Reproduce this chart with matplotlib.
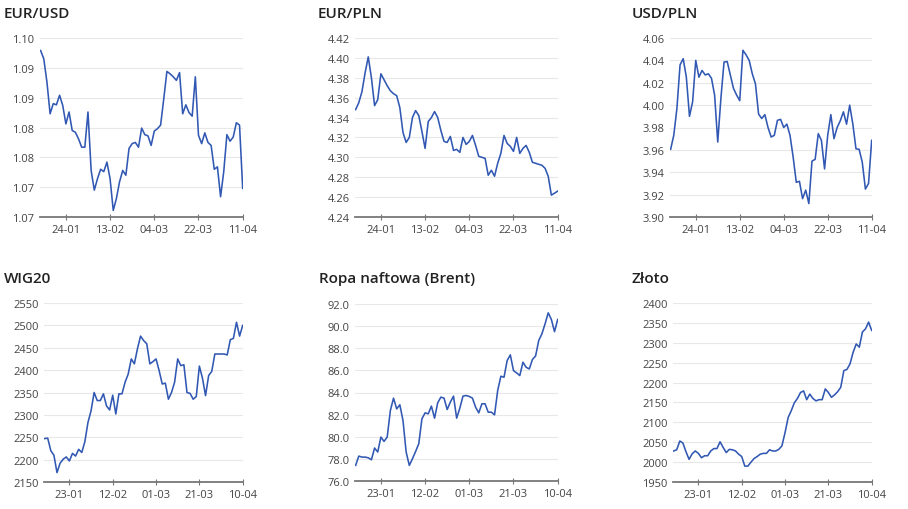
import matplotlib
matplotlib.use("Agg")
import matplotlib.pyplot as plt
import numpy as np

plt.rcParams["font.family"] = ["Open Sans", "DejaVu Sans"]

# x labels: every 14th business day, last point is the last tick
top_dates = ["24-01", "13-02", "04-03", "22-03", "11-04"]
bottom_dates = ["23-01", "12-02", "01-03", "21-03", "10-04"]

eurusd = [1.0979, 1.0965, 1.0926, 1.0873, 1.0890, 1.0888, 1.0904, 1.0887, 1.0856, 1.0876,
          1.0845, 1.0842, 1.0831, 1.0817, 1.0817, 1.0876, 1.0778, 1.0745, 1.0764, 1.0780,
          1.0776, 1.0792, 1.0764, 1.0711, 1.0731, 1.0759, 1.0778, 1.0770, 1.0815, 1.0823,
          1.0825, 1.0817, 1.0849, 1.0838, 1.0836, 1.0820, 1.0844, 1.0848, 1.0854, 1.0898,
          1.0944, 1.0940, 1.0935, 1.0929, 1.0942, 1.0873, 1.0888, 1.0875, 1.0869, 1.0935,
          1.0837, 1.0823, 1.0841, 1.0825, 1.0820, 1.0780, 1.0784, 1.0734, 1.0776, 1.0838,
          1.0827, 1.0834, 1.0858, 1.0854, 1.0748]
eurpln = [4.348, 4.355, 4.366, 4.385, 4.401, 4.380, 4.352, 4.358, 4.384, 4.378,
          4.372, 4.367, 4.364, 4.362, 4.350, 4.325, 4.315, 4.320, 4.340, 4.347,
          4.342, 4.326, 4.309, 4.336, 4.340, 4.346, 4.340, 4.327, 4.316, 4.315,
          4.321, 4.307, 4.308, 4.305, 4.320, 4.313, 4.316, 4.322, 4.312, 4.301,
          4.300, 4.299, 4.282, 4.287, 4.281, 4.294, 4.304, 4.322, 4.314, 4.311,
          4.306, 4.320, 4.304, 4.309, 4.312, 4.305, 4.295, 4.294, 4.293, 4.292,
          4.289, 4.281, 4.262, 4.264, 4.266]
usdpln = [3.9605, 3.973, 3.997, 4.036, 4.0415, 4.025, 3.990, 4.003, 4.040, 4.025,
          4.031, 4.027, 4.028, 4.024, 4.009, 3.967, 4.006, 4.0385, 4.039, 4.027,
          4.015, 4.009, 4.004, 4.049, 4.045, 4.040, 4.028, 4.019, 3.992, 3.988,
          3.9915, 3.980, 3.9715, 3.973, 3.9864, 3.9873, 3.980, 3.983, 3.973, 3.9536,
          3.931, 3.9319, 3.9164, 3.924, 3.912, 3.950, 3.9515, 3.9745, 3.9685, 3.943,
          3.973, 3.9915, 3.970, 3.980, 3.986, 3.994, 3.983, 4.000, 3.983, 3.961,
          3.9605, 3.949, 3.925, 3.930, 3.9685]
wig20 = [2247, 2248, 2220, 2210, 2171, 2192, 2201, 2206, 2197, 2214,
         2208, 2223, 2216, 2240, 2283, 2309, 2350, 2332, 2332, 2347,
         2320, 2311, 2344, 2302, 2347, 2347, 2373, 2391, 2425, 2414,
         2448, 2476, 2466, 2459, 2414, 2419, 2425, 2399, 2369, 2371,
         2335, 2350, 2373, 2425, 2410, 2412, 2350, 2348, 2335, 2341,
         2409, 2382, 2343, 2388, 2397, 2436, 2436, 2436, 2436, 2434,
         2468, 2471, 2507, 2476, 2500]
brent = [77.41, 78.25, 78.16, 78.16, 78.10, 77.92, 78.98, 78.62, 79.97, 79.58,
         79.97, 82.37, 83.49, 82.52, 82.89, 81.47, 78.62, 77.41, 78.01, 78.67,
         79.37, 81.62, 82.16, 82.07, 82.77, 81.68, 83.07, 83.58, 83.49, 82.46,
         83.13, 83.67, 81.68, 82.58, 83.67, 83.73, 83.64, 83.49, 82.67, 82.16,
         82.98, 82.98, 82.22, 82.22, 81.98, 84.18, 85.47, 85.38, 86.89, 87.40,
         85.98, 85.77, 85.53, 86.74, 86.28, 86.13, 86.98, 87.30, 88.70, 89.30,
         90.20, 91.20, 90.60, 89.50, 90.60]
zloto = [2028, 2031, 2053, 2048, 2026, 2007, 2021, 2028, 2022, 2011,
         2016, 2016, 2028, 2034, 2034, 2051, 2037, 2024, 2032, 2031,
         2028, 2020, 2014, 1990, 1990, 2000, 2009, 2014, 2020, 2022,
         2022, 2031, 2028, 2028, 2032, 2041, 2074, 2112, 2129, 2149,
         2160, 2175, 2179, 2157, 2171, 2160, 2154, 2157, 2157, 2184,
         2175, 2163, 2169, 2177, 2188, 2230, 2233, 2247, 2276, 2297,
         2289, 2327, 2335, 2352, 2331]

eurusd_ticks = ["1.07", "1.07", "1.08", "1.08", "1.09", "1.09", "1.10"]

panels = [
    # title, values, date labels, y ticks (lo, hi, step), tick format, axes box in px, title pos
    ("EUR/USD", eurusd, top_dates, (1.07, 1.10, 0.005), None, (40, 39, 243, 218), (4, 14)),
    ("EUR/PLN", eurpln, top_dates, (4.24, 4.42, 0.02), "{:.2f}", (355, 39, 558, 218), (318, 14)),
    ("USD/PLN", usdpln, top_dates, (3.90, 4.06, 0.02), "{:.2f}", (670, 39, 872, 218), (632, 14)),
    ("WIG20", wig20, bottom_dates, (2150, 2550, 50), "{:.0f}", (44, 304, 243, 483), (4, 279)),
    ("Ropa naftowa (Brent)", brent, bottom_dates, (76, 92, 2), "{:.1f}", (355, 305, 558, 482), (319, 279)),
    ("Złoto", zloto, bottom_dates, (1950, 2400, 50), "{:.0f}", (673, 304, 872, 483), (632, 279)),
]

W, H = 908, 510
fig = plt.figure(figsize=(W / 100, H / 100), dpi=100)

for title, values, dates, (lo, hi, step), fmt, (x0, y0, x1, y1), (tx, ty) in panels:
    ax = fig.add_axes([x0 / W, 1 - y1 / H, (x1 - x0) / W, (y1 - y0) / H])
    x = np.arange(len(values))
    ax.plot(x, values, color="#3158b3", lw=1.15)

    yt = np.arange(lo, hi + step / 2, step)
    ax.set_yticks(yt)
    if fmt is None:
        ax.set_yticklabels(eurusd_ticks)
    else:
        ax.set_yticklabels([fmt.format(v) for v in yt])
    ax.set_ylim(lo, hi)

    last = len(values) - 1
    ax.set_xticks(np.arange(last - 14 * (len(dates) - 1), last + 1, 14))
    ax.set_xticklabels(dates)
    ax.set_xlim(-0.2, last + 0.1)

    ax.grid(axis="y", color="#e8e8e8", lw=0.8)
    ax.set_axisbelow(True)
    for side in ("top", "right", "left"):
        ax.spines[side].set_visible(False)
    ax.spines["bottom"].set_color("#777777")
    ax.spines["bottom"].set_linewidth(1.3)
    ax.tick_params(axis="y", length=0, pad=4, labelsize=8, labelcolor="#444444")
    ax.tick_params(axis="x", direction="inout", length=4, width=0.8, color="#777777",
                   pad=3, labelsize=8, labelcolor="#444444")

    fig.text(tx / W, 1 - ty / H, title, fontsize=11, fontweight="semibold",
             color="#222222", ha="left", va="center")

fig.savefig("out.png", dpi=100)
